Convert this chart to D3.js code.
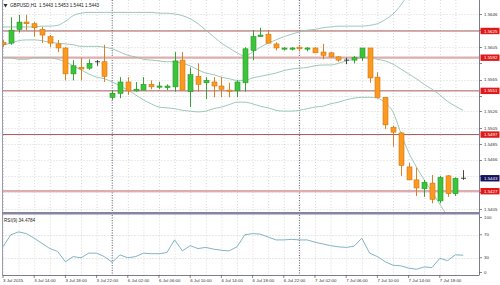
<!DOCTYPE html>
<html><head><meta charset="utf-8">
<script src="https://cdn.jsdelivr.net/npm/d3@7"></script>
<style>
body{margin:0;background:#fff}
svg{display:block}
text{font-family:"Liberation Sans",Arial,sans-serif}
</style>
</head><body>
<svg id="c" width="500" height="285"></svg>
<script>
// ---------------- data ----------------
const header = "GBPUSD,H1  1.5443 1.5453 1.5441 1.5443";
const rsiLabel = "RSI(9) 34.4784";
const timeLabels = ["3 Jul 2015","3 Jul 14:00","3 Jul 18:00","3 Jul 22:00","6 Jul 02:00","6 Jul 06:00","6 Jul 10:00","6 Jul 14:00","6 Jul 18:00","6 Jul 22:00","7 Jul 02:00","7 Jul 06:00","7 Jul 10:00","7 Jul 14:00","7 Jul 18:00"];
const timeLabelBars = [0,4,8,12,16,20,24,28,32,36,40,44,48,52,56];
const separatorBars = [14,38];

const opens  = [1.5611,1.5610,1.5627,1.5636,1.5634,1.5627,1.5618,1.5609,1.5604,1.5572,1.5580,1.5579,1.5587,1.5587,1.5543,1.5548,1.5562,1.5551,1.5552,1.5559,1.5556,1.5555,1.5556,1.5589,1.5550,1.5569,1.5561,1.5562,1.5557,1.5552,1.5551,1.5561,1.5601,1.5618,1.5621,1.5609,1.5603,1.5603,1.5605,1.5603,1.5604,1.5599,1.5598,1.5593,1.5589,1.5589,1.5592,1.5604,1.5568,1.5543,1.5506,1.5499,1.5457,1.5441,1.5430,1.5437,1.5415,1.5446,1.5424,1.5443];
const highs  = [1.5614,1.5642,1.5645,1.5645,1.5636,1.5630,1.5620,1.5614,1.5605,1.5589,1.5592,1.5590,1.5589,1.5608,1.5552,1.5568,1.5568,1.5562,1.5568,1.5564,1.5562,1.5559,1.5599,1.5599,1.5580,1.5585,1.5568,1.5568,1.5568,1.5561,1.5564,1.5605,1.5626,1.5629,1.5626,1.5611,1.5605,1.5605,1.5606,1.5605,1.5605,1.5609,1.5599,1.5594,1.5592,1.5594,1.5604,1.5604,1.5574,1.5543,1.5508,1.5500,1.5462,1.5456,1.5441,1.5447,1.5446,1.5447,1.5444,1.5453];
const lows   = [1.5605,1.5608,1.5623,1.5626,1.5618,1.5610,1.5605,1.5599,1.5564,1.5564,1.5564,1.5577,1.5582,1.5562,1.5540,1.5542,1.5546,1.5550,1.5552,1.5553,1.5553,1.5552,1.5550,1.5552,1.5531,1.5550,1.5541,1.5543,1.5543,1.5543,1.5543,1.5550,1.5589,1.5618,1.5610,1.5601,1.5601,1.5601,1.5600,1.5600,1.5598,1.5590,1.5592,1.5587,1.5584,1.5585,1.5588,1.5561,1.5542,1.5504,1.5482,1.5446,1.5441,1.5421,1.5420,1.5412,1.5412,1.5420,1.5421,1.5441];
const closes = [1.5608,1.5626,1.5636,1.5634,1.5629,1.5620,1.5610,1.5604,1.5572,1.5582,1.5578,1.5585,1.5587,1.5569,1.5548,1.5562,1.5551,1.5553,1.5559,1.5556,1.5557,1.5557,1.5588,1.5552,1.5571,1.5559,1.5564,1.5557,1.5553,1.5551,1.5562,1.5603,1.5618,1.5620,1.5610,1.5604,1.5604,1.5604,1.5603,1.5604,1.5598,1.5595,1.5593,1.5589,1.5589,1.5592,1.5604,1.5567,1.5543,1.5509,1.5500,1.5459,1.5441,1.5431,1.5438,1.5417,1.5444,1.5424,1.5443,1.5443];

const bbUpper  = [1.5630,1.5630,1.5630,1.5630,1.5630,1.5631,1.5631,1.5632,1.5637,1.5644,1.5647,1.5648,1.5648,1.5648,1.5648,1.5648,1.5648,1.5648,1.5648,1.5648,1.5647,1.5647,1.5646,1.5644,1.5640,1.5634,1.5626,1.5618,1.5610,1.5604,1.5598,1.5594,1.5599,1.5605,1.5610,1.5614,1.5618,1.5621,1.5624,1.5626,1.5627,1.5629,1.5630,1.5631,1.5631,1.5631,1.5631,1.5632,1.5634,1.5639,1.5646,1.5657,1.5671,1.5680,1.5688,1.5695,1.5700,1.5703,1.5705,1.5707];
const bbMiddle = [1.5608,1.5610,1.5613,1.5614,1.5614,1.5613,1.5611,1.5610,1.5609,1.5608,1.5606,1.5606,1.5606,1.5605,1.5603,1.5599,1.5595,1.5593,1.5590,1.5589,1.5588,1.5587,1.5587,1.5585,1.5582,1.5577,1.5573,1.5571,1.5568,1.5566,1.5564,1.5564,1.5567,1.5569,1.5571,1.5573,1.5576,1.5578,1.5579,1.5580,1.5582,1.5583,1.5583,1.5585,1.5588,1.5590,1.5592,1.5592,1.5590,1.5588,1.5584,1.5578,1.5572,1.5566,1.5559,1.5553,1.5546,1.5538,1.5532,1.5527];
const bbLower  = [1.5592,1.5592,1.5590,1.5590,1.5592,1.5592,1.5592,1.5590,1.5587,1.5582,1.5577,1.5572,1.5568,1.5566,1.5562,1.5557,1.5552,1.5546,1.5540,1.5535,1.5531,1.5530,1.5529,1.5527,1.5526,1.5525,1.5526,1.5529,1.5531,1.5534,1.5537,1.5537,1.5535,1.5532,1.5530,1.5527,1.5526,1.5526,1.5527,1.5529,1.5531,1.5532,1.5535,1.5537,1.5540,1.5542,1.5543,1.5543,1.5542,1.5536,1.5525,1.5499,1.5475,1.5457,1.5441,1.5426,1.5411,1.5396,1.5384,1.5371];

const rsiValues = [49,70,75,72,64,55,46,41,23,32,30,38,38,32,22,35,30,32,38,37,37,39,61,42,51,46,48,45,43,42,49,70,72,71,66,61,61,62,61,61,57,54,51,49,48,50,64,38,32,23,17,16,12,10,14,13,29,25,35,34.48];

const priceTicks = [1.5646,1.5626,1.5605,1.5586,1.5565,1.5545,1.5526,1.5505,1.5485,1.5466,1.5446,1.5426,1.5405];
const resistanceLevels = [1.5625,1.5551,1.5497];
const zoneLevels = [1.5592,1.5427];
const currentPrice = 1.5443;
const rsiTicks = [100,70,30,0];
const rsiLevels = [70,30];

// ---------------- layout ----------------
const L = 2.5, R = 479.5;
const mainTop = 0, mainBot = 212;
const rsiTop = 214.5, rsiBot = 275;

const svg = d3.select("#c");
const fmt = d3.format(".4f");

const x = d3.scaleLinear().domain([0, 1]).range([3, 10.8]);
const y = d3.scaleLinear().domain([1.5405, 1.5646]).range([209, 14]);
const yr = d3.scaleLinear().domain([0, 100]).range([275, 217.5]);

const defs = svg.append("defs");
defs.append("clipPath").attr("id","cm").append("rect").attr("x",L).attr("y",mainTop).attr("width",R-L).attr("height",mainBot-mainTop);
defs.append("clipPath").attr("id","cr").append("rect").attr("x",L).attr("y",rsiTop).attr("width",R-L).attr("height",rsiBot-rsiTop);

const gridColor = "#cfcfcf";
const grid = svg.append("g");
const vgrid = d3.range(0, opens.length, 2);
grid.selectAll("line.vm").data(vgrid).join("line")
  .attr("x1", d=>x(d)+0.5).attr("x2", d=>x(d)+0.5)
  .attr("y1", mainTop).attr("y2", mainBot)
  .attr("stroke", gridColor).attr("stroke-width",0.8).attr("stroke-dasharray","1,2");
grid.selectAll("line.vr").data(vgrid).join("line")
  .attr("x1", d=>x(d)+0.5).attr("x2", d=>x(d)+0.5)
  .attr("y1", rsiTop).attr("y2", rsiBot)
  .attr("stroke", gridColor).attr("stroke-width",0.8).attr("stroke-dasharray","1,2");
grid.selectAll("line.h").data(priceTicks).join("line")
  .attr("x1", L).attr("x2", R)
  .attr("y1", d=>Math.round(y(d))+0.5).attr("y2", d=>Math.round(y(d))+0.5)
  .attr("stroke", gridColor).attr("stroke-width",0.8).attr("stroke-dasharray","1,2");
grid.selectAll("line.hr").data(rsiLevels).join("line")
  .attr("x1", L).attr("x2", R)
  .attr("y1", d=>Math.round(yr(d))+0.5).attr("y2", d=>Math.round(yr(d))+0.5)
  .attr("stroke", "#c4c4c4").attr("stroke-width",0.8).attr("stroke-dasharray","1,2");

svg.selectAll("line.sep").data(separatorBars).join("line")
  .attr("x1", d=>x(d)).attr("x2", d=>x(d))
  .attr("y1", mainTop).attr("y2", rsiBot)
  .attr("stroke", "#3a3a55").attr("stroke-width",0.8).attr("stroke-dasharray","1,1.5");

const main = svg.append("g").attr("clip-path","url(#cm)");
main.selectAll("line.zone").data(zoneLevels).join("line")
  .attr("x1", L).attr("x2", R).attr("y1", d=>y(d)).attr("y2", d=>y(d))
  .attr("stroke", "#dfadad").attr("stroke-width", 2.2);
main.selectAll("line.res").data(resistanceLevels).join("line")
  .attr("x1", L).attr("x2", R).attr("y1", d=>y(d)).attr("y2", d=>y(d))
  .attr("stroke", "#a85a5a").attr("stroke-width", 1);

const bandLine = d3.line().x((d,i)=>x(i)).y(d=>y(d)).curve(d3.curveMonotoneX);
[bbUpper, bbMiddle, bbLower].forEach(arr => {
  main.append("path").attr("d", bandLine(arr)).attr("fill","none")
    .attr("stroke","#92c2b0").attr("stroke-width",0.9);
});

const candles = opens.map((o,i)=>({i, o, h:highs[i], l:lows[i], c:closes[i]}));
const upFill = "#3cc43c", upStroke = "#239a23";
const dnFill = "#fb9a1e", dnStroke = "#d27610";
const cg = main.selectAll("g.cdl").data(candles).join("g");
cg.append("line")
  .attr("x1", d=>Math.round(x(d.i))+0.5).attr("x2", d=>Math.round(x(d.i))+0.5)
  .attr("y1", d=>y(d.h)).attr("y2", d=>y(d.l))
  .attr("stroke", d=> d.o===d.c ? "#333" : (d.c>d.o ? upStroke : dnStroke)).attr("stroke-width",0.9);
cg.filter(d=>d.o!==d.c).append("rect")
  .attr("x", d=>Math.round(x(d.i))-2).attr("width", 5)
  .attr("y", d=>y(Math.max(d.o,d.c)))
  .attr("height", d=>Math.max(1.2, Math.abs(y(d.o)-y(d.c))))
  .attr("fill", d=>d.c>d.o?upFill:dnFill)
  .attr("stroke", d=>d.c>d.o?upStroke:dnStroke).attr("stroke-width",0.6);
cg.filter(d=>d.o===d.c).append("line")
  .attr("x1", d=>Math.round(x(d.i))-2).attr("x2", d=>Math.round(x(d.i))+3)
  .attr("y1", d=>y(d.o)).attr("y2", d=>y(d.o))
  .attr("stroke","#333").attr("stroke-width",0.9);

const rsiG = svg.append("g").attr("clip-path","url(#cr)");
rsiG.append("path")
  .attr("d", d3.line().x((d,i)=>x(i)).y(d=>yr(d))(rsiValues))
  .attr("fill","none").attr("stroke","#74aabd").attr("stroke-width",0.9);

svg.append("line").attr("x1",L).attr("x2",L).attr("y1",0).attr("y2",rsiBot).attr("stroke","#9a9aae").attr("stroke-width",1);
svg.append("line").attr("x1",R).attr("x2",R).attr("y1",0).attr("y2",rsiBot).attr("stroke","#7c7c90").attr("stroke-width",1);
svg.append("rect").attr("x",L-0.5).attr("y",mainBot).attr("width",R-L+1).attr("height",2.5).attr("fill","#8585a3");
svg.append("line").attr("x1",L).attr("x2",R).attr("y1",rsiBot+0.5).attr("y2",rsiBot+0.5).attr("stroke","#7c7c90").attr("stroke-width",1);

// price axis labels (tick labels hidden under level boxes are skipped)
const boxLevels = [...resistanceLevels, ...zoneLevels, currentPrice];
const visibleTicks = priceTicks.filter(t => boxLevels.every(b => Math.abs(y(t)-y(b)) > 6.2));
const axisG = svg.append("g");
axisG.selectAll("line.pt").data(priceTicks).join("line")
  .attr("x1", R).attr("x2", R+2.5)
  .attr("y1", d=>Math.round(y(d))+0.5).attr("y2", d=>Math.round(y(d))+0.5)
  .attr("stroke","#555").attr("stroke-width",0.7);
axisG.selectAll("text.pl").data(visibleTicks).join("text")
  .attr("x", R+4.5).attr("y", d=>y(d)+1.6)
  .attr("font-size", 4.4).attr("fill","#333").text(d=>fmt(d));

const boxes = [...resistanceLevels, ...zoneLevels].map(v=>({v, fill:"#e01818"}))
  .concat([{v: currentPrice, fill:"#12125e"}]);
const bg = axisG.selectAll("g.box").data(boxes).join("g");
bg.append("rect").attr("x", R+1).attr("y", d=>y(d.v)-3.2).attr("width", 19).attr("height", 6.4).attr("fill", d=>d.fill);
bg.append("text").attr("x", R+4.5).attr("y", d=>y(d.v)+1.6).attr("font-size",4.4).attr("fill","#fff").text(d=>fmt(d.v));

axisG.selectAll("text.rl").data(rsiTicks).join("text")
  .attr("x", R+4.5).attr("y", d=>Math.min(yr(d), 272.5)+1.6)
  .attr("font-size", 4.4).attr("fill","#333").text(d=>d);
axisG.selectAll("line.rt").data(rsiTicks).join("line")
  .attr("x1", R).attr("x2", R+2.5)
  .attr("y1", d=>Math.min(yr(d), 272.5)).attr("y2", d=>Math.min(yr(d), 272.5))
  .attr("stroke","#555").attr("stroke-width",0.7);

const tg = svg.append("g");
tg.selectAll("line.tt").data(timeLabelBars).join("line")
  .attr("x1", d=>x(d)).attr("x2", d=>x(d)).attr("y1", rsiBot).attr("y2", rsiBot+3)
  .attr("stroke","#555").attr("stroke-width",0.7);
tg.selectAll("text").data(timeLabels).join("text")
  .attr("x", (d,i)=>x(timeLabelBars[i])).attr("y", 282)
  .attr("font-size", 4.4).attr("fill","#333").text(d=>d);

svg.append("path").attr("d","M3.5,4 L7.5,4 L5.5,7.5 Z").attr("fill","#333");
svg.append("text").attr("x",10).attr("y",7.3).attr("font-size",4.6).attr("fill","#222").attr("xml:space","preserve").text(header);
svg.append("text").attr("x",4).attr("y",221.5).attr("font-size",4.6).attr("fill","#222").text(rsiLabel);
</script>
</body></html>
